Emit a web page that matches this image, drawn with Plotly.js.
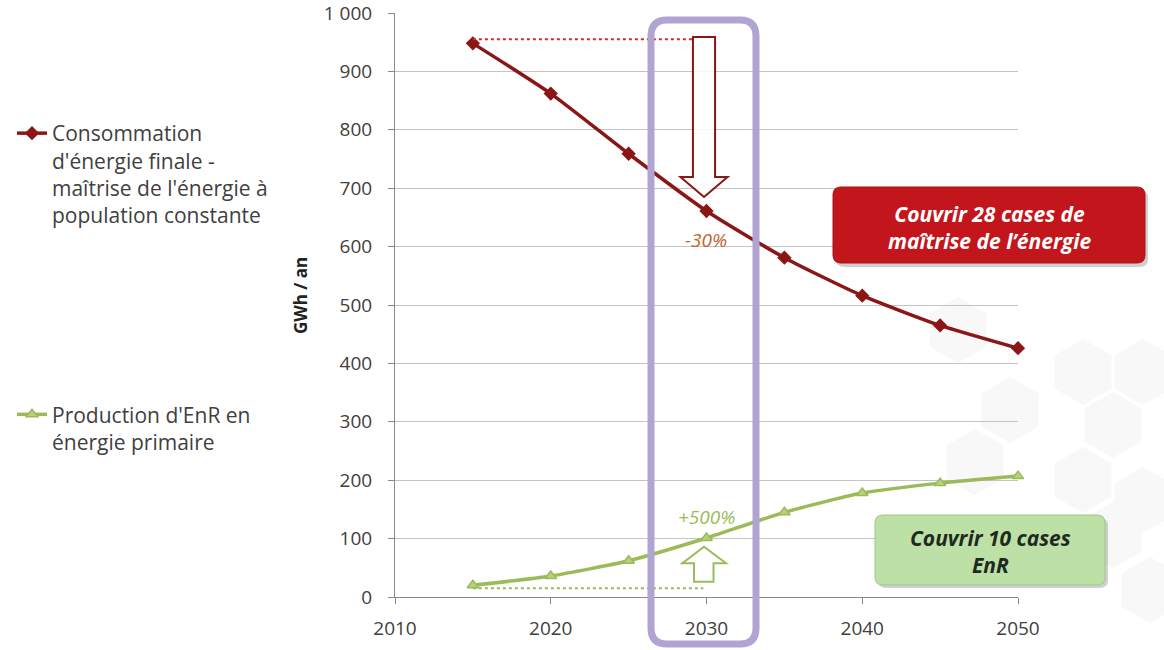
<!DOCTYPE html>
<html>
<head>
<meta charset="utf-8">
<script src="https://cdn.plot.ly/plotly-3.0.1.min.js"></script>
<style>
html,body{margin:0;padding:0;background:#fff;}
#chart{width:1164px;height:650px;}
</style>
</head>
<body>
<div id="chart"></div>
<script>
// ---- data ----
const years = [2015, 2020, 2025, 2030, 2035, 2040, 2045, 2050];
const consommation = [948, 862, 759, 661, 581, 516, 465, 426];
const enr = [20, 36, 62, 101, 145, 178, 195, 207];
const seriesNames = [
  "Consommation<br>d'énergie finale -<br>maîtrise de l'énergie à<br>population constante",
  "Production d'EnR en<br>énergie primaire"
];
const xTicks = [2010, 2020, 2030, 2040, 2050];
const yTicks = [0, 100, 200, 300, 400, 500, 600, 700, 800, 900, 1000];

// ---- geometry helpers (pixel -> paper) ----
const L = 395, T = 13, W = 623, H = 584;
const px = v => (v - L) / W;
const py = v => (T + H - v) / H;
function roundRect(x0, y0, x1, y1, r) {
  const X0 = px(x0), X1 = px(x1), Y0 = py(y0), Y1 = py(y1);
  const rx = r / W, ry = r / H;
  return `M ${X0 + rx} ${Y0} L ${X1 - rx} ${Y0} Q ${X1} ${Y0} ${X1} ${Y0 - ry} ` +
         `L ${X1} ${Y1 + ry} Q ${X1} ${Y1} ${X1 - rx} ${Y1} ` +
         `L ${X0 + rx} ${Y1} Q ${X0} ${Y1} ${X0} ${Y1 + ry} ` +
         `L ${X0} ${Y0 - ry} Q ${X0} ${Y0} ${X0 + rx} ${Y0} Z`;
}
function hexagon(cx, cy, R) {
  let d = '';
  for (let i = 0; i < 6; i++) {
    const a = Math.PI / 180 * (60 * i - 90);
    const x = px(cx + R * Math.cos(a)), y = py(cy + R * Math.sin(a));
    d += (i === 0 ? 'M ' : 'L ') + x + ' ' + y + ' ';
  }
  return d + 'Z';
}

const red = '#8A1616';
const green = '#9BBB59';

const traces = [
  {
    x: years, y: consommation, name: seriesNames[0], type: 'scatter', mode: 'lines+markers',
    line: {color: red, width: 3.5, shape: 'spline', smoothing: 0.6},
    marker: {symbol: 'diamond', size: 11, color: red},
    legendgroup: 'a', cliponaxis: false
  },
  {
    x: years, y: enr, name: seriesNames[1], type: 'scatter', mode: 'lines+markers',
    line: {color: green, width: 3.5, shape: 'spline', smoothing: 0.6},
    marker: {symbol: 'triangle-up', size: 10, color: '#B5D27A', line: {color: green, width: 1.5}},
    legendgroup: 'b', cliponaxis: false
  }
];

const shapes = [];
// faint hexagon decoration
const hexCenters = [[1083,372],[1143,372],[1010,410],[1113,425],[975,462],[1083,480],[1143,500],[958,330],[1113,535],[1150,590]];
hexCenters.forEach(c => shapes.push({type:'path', xref:'paper', yref:'paper', path: hexagon(c[0], c[1], 33),
  fillcolor:'#F8F8F8', line:{width:0}, layer:'below'}));

// dotted reference lines
shapes.push({type:'line', xref:'x', yref:'y', x0: years[0], x1: 2029.1, y0: 955, y1: 955,
  line:{color:'#C8302B', width:2, dash:'dot'}});
shapes.push({type:'line', xref:'x', yref:'y', x0: years[0], x1: 2029.8, y0: 15, y1: 15,
  line:{color: green, width:2, dash:'dot'}});

// red down arrow (outline)
shapes.push({type:'path', xref:'x', yref:'y',
  path: 'M 2029.13 959 L 2030.55 959 L 2030.55 719 L 2031.35 719 L 2029.84 685 L 2028.33 719 L 2029.13 719 Z',
  fillcolor:'rgba(255,255,255,0.85)', line:{color: red, width:2}});
// green up arrow (outline)
shapes.push({type:'path', xref:'x', yref:'y',
  path: 'M 2029.2 26 L 2030.45 26 L 2030.45 58 L 2031.25 58 L 2029.84 86 L 2028.45 58 L 2029.2 58 Z',
  fillcolor:'rgba(255,255,255,0.85)', line:{color: green, width:2}});

// purple highlight frame
shapes.push({type:'path', xref:'paper', yref:'paper', path: roundRect(651, 20, 756, 644, 16),
  fillcolor:'rgba(0,0,0,0)', line:{color:'#B0A4D3', width:7}});

// red box (shadow + box)
shapes.push({type:'path', xref:'paper', yref:'paper', path: roundRect(836, 190, 1148, 267, 8),
  fillcolor:'rgba(120,120,120,0.35)', line:{width:0}});
shapes.push({type:'path', xref:'paper', yref:'paper', path: roundRect(833, 187, 1145, 263, 8),
  fillcolor:'#C3161C', line:{color:'#A8131A', width:1}});
// green box (shadow + box)
shapes.push({type:'path', xref:'paper', yref:'paper', path: roundRect(878, 518, 1108, 588, 8),
  fillcolor:'rgba(120,120,120,0.35)', line:{width:0}});
shapes.push({type:'path', xref:'paper', yref:'paper', path: roundRect(875, 515, 1105, 585, 8),
  fillcolor:'#BCE0A6', line:{color:'#9CC98A', width:1}});

const ann = (x, y, text, font, extra) => Object.assign({xref:'paper', yref:'paper', x: px(x), y: py(y), text,
  showarrow:false, xanchor:'center', yanchor:'middle', font}, extra || {});
const annotations = [
  ann(300, 296, '<b>GWh / an</b>', {family:'Open Sans', size:17, color:'#222'}, {textangle:-90}),
  ann(706, 240, '<i>-30%</i>', {family:'Open Sans', size:19, color:'#C0622E'}),
  ann(706, 517, '<i>+500%</i>', {family:'Open Sans', size:19, color: green}),
  ann(989, 227, '<b><i>Couvrir 28 cases de<br>maîtrise de l’énergie</i></b>', {family:'Open Sans', size:21, color:'#FFFFFF'}),
  ann(990, 551, '<b><i>Couvrir 10 cases<br>EnR</i></b>', {family:'Open Sans', size:21, color:'#1F2A1F'})
];

const layout = {
  width: 1164, height: 650,
  margin: {l: L, r: 1164 - L - W, t: T, b: 650 - T - H},
  paper_bgcolor: '#fff', plot_bgcolor: 'rgba(0,0,0,0)',
  separators: ', ',
  showlegend: true,
  legend: {x: px(12), y: py(113), xanchor:'left', yanchor:'top', valign:'top',
    font:{family:'Open Sans', size:21, color:'#404040'}, tracegroupgap: 169, itemwidth: 30,
    bgcolor:'rgba(0,0,0,0)'},
  xaxis: {range:[2010, 2050], tickvals: xTicks, ticks:'outside', ticklen:6, tickcolor:'#888',
    showline:true, linecolor:'#888', showgrid:false, zeroline:false, ticklabelstandoff: 8,
    tickfont:{family:'Open Sans', size:19, color:'#404040'}},
  yaxis: {range:[0, 1000], tickvals: yTicks, ticks:'outside', ticklen:6, tickcolor:'#888',
    showline:true, linecolor:'#888', showgrid:true, gridcolor:'#C4C4C4', gridwidth:1, zeroline:false,
    separatethousands:true, ticklabelstandoff: 12, ticklabeloverflow:'allow',
    tickfont:{family:'Open Sans', size:19, color:'#404040'}},
  shapes: shapes,
  annotations: annotations
};

Plotly.newPlot('chart', traces, layout, {displayModeBar:false, staticPlot:true});
</script>
</body>
</html>
